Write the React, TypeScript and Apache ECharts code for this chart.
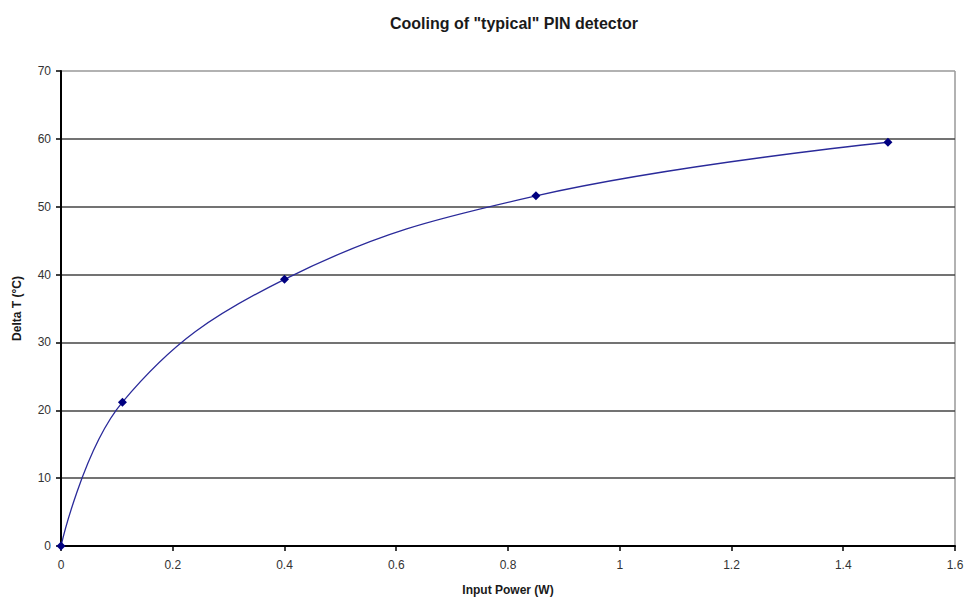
import React, { useEffect, useRef } from "react";
import * as echarts from "echarts";

const powerW = [0, 0.11, 0.4, 0.85, 1.48];
const deltaT = [0, 21.2, 39.3, 51.6, 59.5];
const titleText = 'Cooling of "typical" PIN detector';
const xName = "Input Power (W)";
const yName = "Delta T (°C)";

export default function App() {
  const ref = useRef<HTMLDivElement>(null);
  useEffect(() => {
    if (!ref.current) return;
    const chart = echarts.init(ref.current, null, { renderer: "svg" });
    const font = "Arial, 'Liberation Sans', sans-serif";
    chart.setOption({
      animation: false,
      backgroundColor: "#ffffff",
      title: {
        text: titleText,
        left: 509,
        textAlign: "center",
        top: 10,
        textStyle: { fontFamily: font, fontSize: 16, fontWeight: "bold", color: "#1a1a1a" },
      },
      grid: { left: 61, right: 21, top: 71, bottom: 54, containLabel: false, show: false },
      xAxis: {
        type: "value",
        min: 0,
        max: 1.6,
        interval: 0.2,
        name: xName,
        nameLocation: "middle",
        nameGap: 38,
        nameTextStyle: { fontFamily: font, fontSize: 12, fontWeight: "bold", color: "#1a1a1a" },
        axisLine: { show: true, lineStyle: { color: "#000", width: 2 } },
        axisTick: { show: true, length: 5, lineStyle: { color: "#000", width: 1.5 } },
        axisLabel: {
          fontFamily: font,
          fontSize: 12,
          color: "#333",
          margin: 13,
          formatter: (v: number) => String(Math.round(v * 10) / 10),
        },
        splitLine: { show: false },
      },
      yAxis: {
        type: "value",
        min: 0,
        max: 70,
        interval: 10,
        name: yName,
        nameLocation: "middle",
        nameGap: 38,
        nameRotate: 90,
        nameTextStyle: { fontFamily: font, fontSize: 12, fontWeight: "bold", color: "#1a1a1a" },
        axisLine: { show: true, lineStyle: { color: "#000", width: 2 } },
        axisTick: { show: true, length: 5, lineStyle: { color: "#000", width: 1.5 } },
        axisLabel: { fontFamily: font, fontSize: 12, color: "#333", margin: 10 },
        splitLine: {
          show: true,
          lineStyle: {
            color: ["#444", "#444", "#444", "#444", "#444", "#444", "#444", "#999"],
            width: 1.5,
          },
        },
      },
      graphic: [
        {
          type: "line",
          shape: { x1: 955, y1: 71, x2: 955, y2: 547 },
          style: { stroke: "#999", lineWidth: 1.5 },
          z: 0,
        },
      ],
      series: [
        {
          type: "line",
          data: powerW.map((x, i) => [x, deltaT[i]]),
          smooth: 0.4,
          symbol: "diamond",
          symbolSize: 9,
          lineStyle: { color: "#2a2a9a", width: 1.3 },
          itemStyle: { color: "#000080" },
          z: 3,
        },
      ],
    });
    return () => chart.dispose();
  }, []);
  return <div ref={ref} style={{ width: 976, height: 601, position: "absolute", left: 0, top: 0 }} />;
}
